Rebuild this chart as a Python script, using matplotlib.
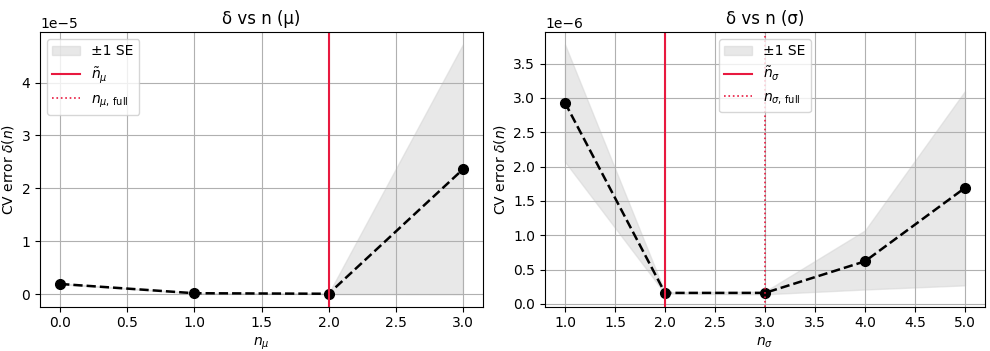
import matplotlib
matplotlib.use('Agg')
import matplotlib.pyplot as plt
import numpy as np

# datos
n_mu = [0, 1, 2, 3]
delta_mu = [1.95e-6, 0.2e-6, 0.1e-6, 2.36e-5]
lo_mu = [1.9e-6, 0.15e-6, 0.05e-6, 0.0]
hi_mu = [2.0e-6, 0.25e-6, 0.15e-6, 4.72e-5]
n_mu_tilde = 2
n_mu_full = 2

n_sig = [1, 2, 3, 4, 5]
delta_sig = [2.93e-6, 0.16e-6, 0.16e-6, 0.62e-6, 1.69e-6]
lo_sig = [2.07e-6, 0.15e-6, 0.14e-6, 0.21e-6, 0.27e-6]
hi_sig = [3.78e-6, 0.17e-6, 0.18e-6, 1.07e-6, 3.10e-6]
n_sig_tilde = 2
n_sig_full = 3

RED = '#e8193f'


def panel(ax, n, d, lo, hi, nt, nf, sub, title, legloc):
    ax.fill_between(n, lo, hi, color='lightgray', alpha=0.5, label='±1 SE')
    ax.plot(n, d, 'k--o', ms=7, lw=1.8)
    ax.axvline(nt, color=RED, lw=1.5, label=r'$\tilde{n}_{%s}$' % sub)
    ax.axvline(nf, color=RED, lw=1.2, ls=':', label=r'$n_{%s,\,\mathrm{full}}$' % sub)
    ax.set_xlabel(r'$n_{%s}$' % sub)
    ax.set_ylabel(r'CV error $\delta(n)$')
    ax.set_title(title)
    ax.grid(True)
    ax.legend(loc=legloc)


fig = plt.figure(figsize=(9.9, 3.51), dpi=100)
ax1 = fig.add_axes([0.0404, 0.126, 0.4475, 0.783])
ax2 = fig.add_axes([0.5505, 0.126, 0.4444, 0.783])
panel(ax1, n_mu, delta_mu, lo_mu, hi_mu, n_mu_tilde, n_mu_full, r'\mu', 'δ vs n (μ)', 'upper left')
panel(ax2, n_sig, delta_sig, lo_sig, hi_sig, n_sig_tilde, n_sig_full, r'\sigma', 'δ vs n (σ)', 'upper center')
fig.savefig('out.png', dpi=100)
